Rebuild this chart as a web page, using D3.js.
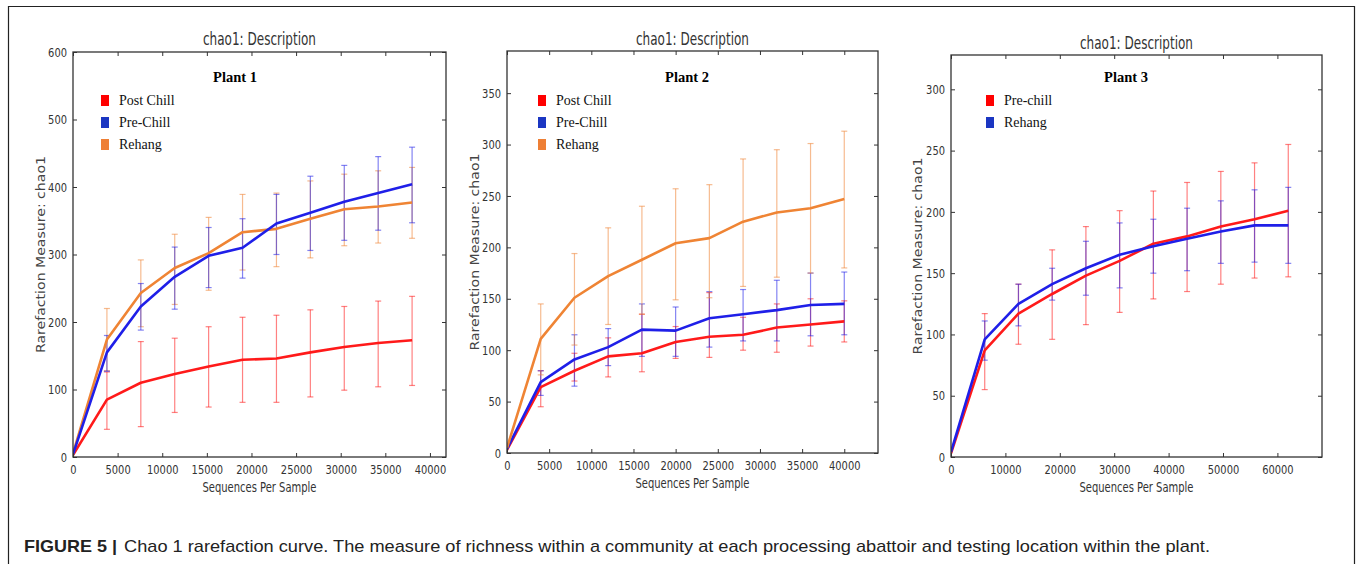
<!DOCTYPE html>
<html><head><meta charset="utf-8">
<script src="https://cdn.jsdelivr.net/npm/d3@7"></script>
<style>
body{margin:0;background:#fff;}
svg{display:block;}
.tick text{font-family:"DejaVu Sans",sans-serif;font-size:13px;fill:#333;}
</style></head>
<body><svg id="c" width="1357" height="564"></svg>
<script>
// ---------- DATA ----------
const p1X = [0,3800,7600,11400,15200,19000,22800,26600,30400,34200,38000];
const p1PostChill   = [3,85,110,123,134,144,146,155,163,169,173];
const p1PostChillLo = [3,41,45,66,74,81,81,89,99,104,106];
const p1PostChillHi = [3,126,171,176,193,207,210,218,223,231,238];
const p1PreChill    = [4,155,223,267,298,310,346,362,378,391,404];
const p1PreChillLo  = [4,127,188,219,251,265,300,306,321,336,347];
const p1PreChillHi  = [4,180,257,311,340,353,389,416,432,445,459];
const p1Rehang      = [5,174,243,280,302,333,338,353,367,371,377];
const p1RehangLo    = [5,128,193,226,247,277,282,295,313,317,324];
const p1RehangHi    = [5,220,292,330,355,389,391,409,419,424,429];

const p2X = [0,4000,8000,12000,16000,20000,24000,28000,32000,36000,40000];
const p2PostChill   = [3,64,80,94,97,108,113,115,122,125,128];
const p2PostChillLo = [3,45,70,74,79,92,93,100,98,104,108];
const p2PostChillHi = [3,80,97,112,135,123,156,132,145,150,148];
const p2PreChill    = [4,69,91,103,120,119,131,135,139,144,145];
const p2PreChillLo  = [4,56,65,85,94,94,103,109,109,114,115];
const p2PreChillHi  = [4,80,115,121,145,142,157,159,168,175,176];
const p2Rehang      = [5,111,151,172,188,204,209,225,234,238,247];
const p2RehangLo    = [5,76,105,125,135,149,151,162,171,175,180];
const p2RehangHi    = [5,145,194,219,240,257,261,286,295,301,313];

const p3X = [0,6200,12400,18600,24800,31000,37200,43400,49600,55800,62000];
const p3PreChill    = [3,87,117,133,148,160,174,180,188,194,201];
const p3PreChillLo  = [3,55,92,96,108,118,129,135,141,146,147];
const p3PreChillHi  = [3,117,141,169,188,201,217,224,233,240,255];
const p3Rehang      = [4,96,125,141,154,165,172,178,184,189,189];
const p3RehangLo    = [4,79,107,128,132,138,150,152,158,159,158];
const p3RehangHi    = [4,111,141,154,176,191,194,203,209,218,220];

const p1XTicks = [0,5000,10000,15000,20000,25000,30000,35000,40000];
const p1YTicks = [0,100,200,300,400,500,600];
const p2XTicks = [0,5000,10000,15000,20000,25000,30000,35000,40000];
const p2YTicks = [0,50,100,150,200,250,300,350];
const p3XTicks = [0,10000,20000,30000,40000,50000,60000];
const p3YTicks = [0,50,100,150,200,250,300];

const titleText = "chao1: Description";
const xLabel = "Sequences Per Sample";
const yLabel = "Rarefaction Measure: chao1";
const captionBold = "FIGURE 5 |";
const captionText = "Chao 1 rarefaction curve. The measure of richness within a community at each processing abattoir and testing location within the plant.";

// ---------- STYLE ----------
const RED = "#ff1a1a", BLUE = "#1f1fe8", ORANGE = "#ef8434";
const RED_SW = "#ff0000", BLUE_SW = "#1b36c2", ORANGE_SW = "#ee7f35";

const panels = [
  { name:"Plant 1", box:{l:73,t:52,r:446,b:457}, xmax:41800, ymax:600, xt:p1XTicks, yt:p1YTicks, titleY:45, xLabY:492, yLabX:45,
    legX:101, plantX:235,
    series:[
      {label:"Post Chill", color:RED, sw:RED_SW, x:p1X, y:p1PostChill, lo:p1PostChillLo, hi:p1PostChillHi},
      {label:"Pre-Chill", color:BLUE, sw:BLUE_SW, x:p1X, y:p1PreChill, lo:p1PreChillLo, hi:p1PreChillHi},
      {label:"Rehang", color:ORANGE, sw:ORANGE_SW, x:p1X, y:p1Rehang, lo:p1RehangLo, hi:p1RehangHi}
    ], drawOrder:[0,2,1]},
  { name:"Plant 2", box:{l:507,t:51,r:878,b:453}, xmax:44000, ymax:391, xt:p2XTicks, yt:p2YTicks, titleY:45, xLabY:488, yLabX:479,
    legX:538, plantX:687,
    series:[
      {label:"Post Chill", color:RED, sw:RED_SW, x:p2X, y:p2PostChill, lo:p2PostChillLo, hi:p2PostChillHi},
      {label:"Pre-Chill", color:BLUE, sw:BLUE_SW, x:p2X, y:p2PreChill, lo:p2PreChillLo, hi:p2PreChillHi},
      {label:"Rehang", color:ORANGE, sw:ORANGE_SW, x:p2X, y:p2Rehang, lo:p2RehangLo, hi:p2RehangHi}
    ], drawOrder:[0,1,2]},
  { name:"Plant 3", box:{l:951,t:55,r:1322,b:457}, xmax:68200, ymax:328, xt:p3XTicks, yt:p3YTicks, titleY:49, xLabY:492, yLabX:922,
    legX:986, plantX:1126,
    series:[
      {label:"Pre-chill", color:RED, sw:RED_SW, x:p3X, y:p3PreChill, lo:p3PreChillLo, hi:p3PreChillHi},
      {label:"Rehang", color:BLUE, sw:BLUE_SW, x:p3X, y:p3Rehang, lo:p3RehangLo, hi:p3RehangHi}
    ], drawOrder:[0,1]}
];

const svg = d3.select("#c");

// outer frame (top, left, right)
svg.append("path").attr("d","M8.5,564 L8.5,6.5 L1354.5,6.5 L1354.5,564")
  .attr("fill","none").attr("stroke","#222").attr("stroke-width",1.2);

const CHAR_W = 6.3; // condensed digit width

panels.forEach(p => {
  const B = p.box;
  const x = d3.scaleLinear().domain([0,p.xmax]).range([B.l,B.r]);
  const y = d3.scaleLinear().domain([0,p.ymax]).range([B.b,B.t]);
  const g = svg.append("g");

  const cid = "clip" + p.name.replace(/\s/g,"");
  svg.append("clipPath").attr("id",cid).append("rect")
    .attr("x",B.l).attr("y",B.t).attr("width",B.r-B.l).attr("height",B.b-B.t);

  const plot = g.append("g").attr("clip-path",`url(#${cid})`);
  const line = d3.line().x(d=>x(d[0])).y(d=>y(d[1]));

  p.drawOrder.forEach(si => {
    const s = p.series[si];
    const eg = plot.append("g").attr("stroke",s.color).attr("stroke-opacity",0.55).attr("stroke-width",1.2);
    s.x.forEach((v,i)=>{
      if(i===0) return;
      const xx = x(v);
      eg.append("line").attr("x1",xx).attr("x2",xx).attr("y1",y(s.lo[i])).attr("y2",y(s.hi[i]));
      eg.append("line").attr("x1",xx-3).attr("x2",xx+3).attr("y1",y(s.lo[i])).attr("y2",y(s.lo[i]));
      eg.append("line").attr("x1",xx-3).attr("x2",xx+3).attr("y1",y(s.hi[i])).attr("y2",y(s.hi[i]));
    });
  });
  p.drawOrder.forEach(si => {
    const s = p.series[si];
    const pts = s.x.map((v,i)=>[v,s.y[i]]);
    plot.append("path").datum(pts).attr("d",line).attr("fill","none")
      .attr("stroke",s.color).attr("stroke-width",2.6).attr("stroke-linejoin","round");
  });

  const axB = d3.axisBottom(x).tickValues(p.xt).tickSizeInner(-4).tickSizeOuter(0).tickPadding(8).tickFormat(d3.format("d"));
  const axT = d3.axisTop(x).tickValues(p.xt).tickSizeInner(-4).tickSizeOuter(0).tickFormat("");
  const axL = d3.axisLeft(y).tickValues(p.yt).tickSizeInner(-4).tickSizeOuter(0).tickPadding(6).tickFormat(d3.format("d"));
  const axR = d3.axisRight(y).tickValues(p.yt).tickSizeInner(-4).tickSizeOuter(0).tickFormat("");
  [[axB,`translate(0,${B.b})`],[axT,`translate(0,${B.t})`],[axL,`translate(${B.l},0)`],[axR,`translate(${B.r},0)`]].forEach(([ax,tr])=>{
    const a = g.append("g").attr("transform",tr).call(ax);
    a.select(".domain").remove();
    a.selectAll(".tick line").attr("stroke","#333").attr("stroke-width",1);
    a.selectAll(".tick text").each(function(){
      const t = d3.select(this).text();
      if(t) d3.select(this).attr("textLength", t.length*CHAR_W).attr("lengthAdjust","spacingAndGlyphs");
    });
  });
  g.append("rect").attr("x",B.l).attr("y",B.t).attr("width",B.r-B.l).attr("height",B.b-B.t)
    .attr("fill","none").attr("stroke","#333").attr("stroke-width",1.3);

  g.append("text").attr("x",(B.l+B.r)/2).attr("y",p.titleY).attr("text-anchor","middle")
    .style("font-family","'DejaVu Sans',sans-serif").style("font-size","17px").style("fill","#333")
    .attr("textLength",113).attr("lengthAdjust","spacingAndGlyphs").text(titleText);
  g.append("text").attr("x",(B.l+B.r)/2).attr("y",p.xLabY).attr("text-anchor","middle")
    .style("font-family","'DejaVu Sans',sans-serif").style("font-size","14px").style("fill","#333")
    .attr("textLength",114).attr("lengthAdjust","spacingAndGlyphs").text(xLabel);
  g.append("text").attr("transform",`translate(${p.yLabX},${(B.t+B.b)/2}) rotate(-90)`).attr("text-anchor","middle")
    .style("font-family","'DejaVu Sans',sans-serif").style("font-size","13px").style("fill","#444")
    .attr("textLength",197).attr("lengthAdjust","spacingAndGlyphs").text(yLabel);

  g.append("text").attr("x",p.plantX).attr("y",82).attr("text-anchor","middle")
    .style("font-family","'Liberation Serif','Times New Roman',serif").style("font-weight","bold")
    .style("font-size","14.5px").style("fill","#000").text(p.name);

  p.series.forEach((s,i)=>{
    const cy = 100 + i*22;
    g.append("rect").attr("x",p.legX).attr("y",cy-5).attr("width",8).attr("height",11).attr("fill",s.sw);
    g.append("text").attr("x",p.legX+18).attr("y",cy+5)
      .style("font-family","'Liberation Serif','Times New Roman',serif").style("font-size","14px").style("fill","#111")
      .text(s.label);
  });
});

// caption
svg.append("text").attr("x",24).attr("y",552)
  .style("font-family","'Liberation Sans',Arial,sans-serif").style("font-weight","bold").style("font-size","17px")
  .attr("textLength",93).attr("lengthAdjust","spacingAndGlyphs").style("fill","#222").text(captionBold);
svg.append("text").attr("x",124).attr("y",552)
  .style("font-family","'Liberation Sans',Arial,sans-serif").style("font-size","17px")
  .attr("textLength",1086).attr("lengthAdjust","spacingAndGlyphs").style("fill","#222").text(captionText);
</script></body></html>
